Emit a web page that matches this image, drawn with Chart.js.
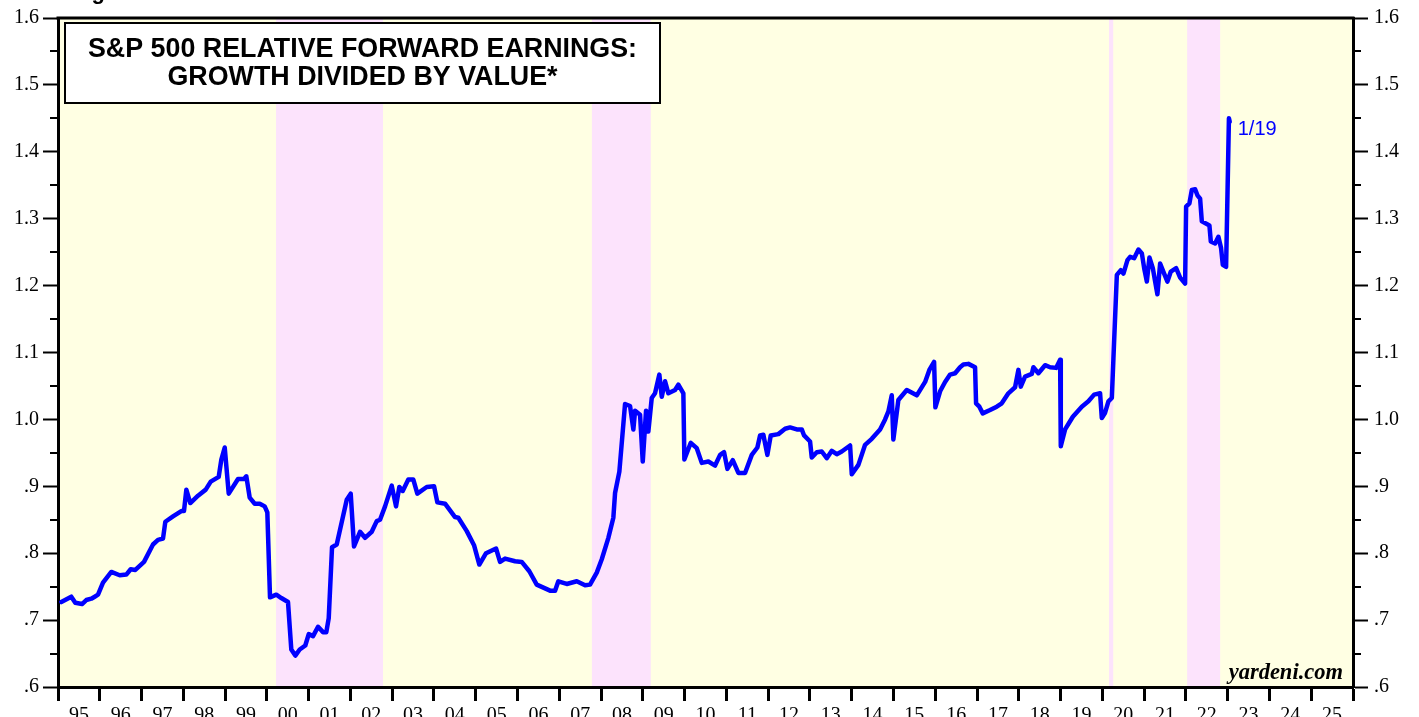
<!DOCTYPE html>
<html><head><meta charset="utf-8">
<script src="https://cdn.jsdelivr.net/npm/chart.js@4.4.1/dist/chart.umd.min.js"></script>
<style>html,body{margin:0;padding:0;background:#fff;overflow:hidden}#wrap{width:1419px;height:717px;position:relative}</style>
</head><body><div id="wrap"><canvas id="c" width="1419" height="717"></canvas></div>
<script>
// ---- data (decimal year, ratio) ----
const dates = [1995.079,1995.318,1995.414,1995.575,1995.677,1995.797,1995.879,1995.958,1996.077,1996.276,1996.477,1996.635,1996.740,1996.851,1997.059,1997.274,1997.394,1997.514,1997.569,1997.753,1997.952,1998.016,1998.072,1998.167,1998.352,1998.536,1998.656,1998.847,1998.910,1998.991,1999.087,1999.309,1999.453,1999.508,1999.589,1999.709,1999.829,1999.948,2000.011,2000.075,2000.226,2000.346,2000.506,2000.585,2000.681,2000.786,2000.920,2001.002,2001.105,2001.225,2001.344,2001.423,2001.481,2001.560,2001.672,2001.912,2002.007,2002.086,2002.230,2002.350,2002.510,2002.630,2002.709,2002.829,2002.989,2003.092,2003.171,2003.252,2003.386,2003.506,2003.602,2003.827,2004.002,2004.081,2004.265,2004.504,2004.583,2004.785,2004.959,2005.086,2005.247,2005.486,2005.582,2005.702,2005.941,2006.101,2006.283,2006.460,2006.779,2006.899,2006.977,2007.178,2007.418,2007.617,2007.736,2007.897,2008.017,2008.175,2008.294,2008.335,2008.438,2008.574,2008.694,2008.773,2008.814,2008.933,2008.998,2009.077,2009.132,2009.213,2009.292,2009.395,2009.453,2009.532,2009.611,2009.771,2009.850,2009.970,2009.994,2010.147,2010.291,2010.411,2010.569,2010.729,2010.849,2010.944,2011.024,2011.153,2011.287,2011.447,2011.608,2011.742,2011.806,2011.885,2011.981,2012.062,2012.244,2012.405,2012.524,2012.685,2012.804,2012.860,2013.003,2013.044,2013.164,2013.283,2013.403,2013.523,2013.642,2013.762,2013.961,2014.002,2014.160,2014.320,2014.480,2014.679,2014.799,2014.878,2014.959,2014.997,2015.117,2015.318,2015.558,2015.757,2015.859,2015.972,2016.003,2016.116,2016.235,2016.355,2016.475,2016.594,2016.673,2016.793,2016.953,2016.977,2017.056,2017.137,2017.312,2017.472,2017.592,2017.750,2017.911,2017.990,2018.047,2018.150,2018.311,2018.349,2018.469,2018.629,2018.749,2018.893,2018.989,2019.005,2019.108,2019.293,2019.508,2019.666,2019.803,2019.946,2019.987,2020.066,2020.145,2020.227,2020.265,2020.347,2020.442,2020.505,2020.601,2020.665,2020.761,2020.864,2020.946,2021.001,2021.065,2021.127,2021.208,2021.264,2021.318,2021.383,2021.479,2021.558,2021.639,2021.766,2021.862,2021.981,2022.005,2022.084,2022.142,2022.221,2022.276,2022.340,2022.381,2022.501,2022.563,2022.596,2022.699,2022.778,2022.842,2022.883,2022.962,2023.030,2023.049];
const values = [0.727,0.735,0.726,0.724,0.730,0.732,0.735,0.738,0.756,0.772,0.767,0.768,0.776,0.775,0.787,0.813,0.820,0.822,0.847,0.855,0.863,0.863,0.895,0.875,0.886,0.895,0.907,0.914,0.940,0.958,0.889,0.911,0.911,0.915,0.883,0.874,0.874,0.870,0.861,0.734,0.738,0.733,0.727,0.656,0.647,0.656,0.662,0.679,0.676,0.690,0.682,0.682,0.703,0.809,0.813,0.880,0.889,0.810,0.832,0.823,0.832,0.848,0.850,0.870,0.901,0.870,0.899,0.893,0.910,0.910,0.889,0.899,0.900,0.876,0.874,0.854,0.853,0.833,0.812,0.783,0.800,0.807,0.787,0.792,0.788,0.787,0.773,0.753,0.744,0.744,0.758,0.754,0.758,0.752,0.753,0.771,0.791,0.823,0.853,0.890,0.922,1.023,1.020,0.985,1.013,1.007,0.937,1.013,0.982,1.032,1.039,1.067,1.034,1.057,1.039,1.044,1.052,1.039,0.940,0.965,0.957,0.935,0.937,0.931,0.947,0.951,0.926,0.939,0.920,0.920,0.947,0.958,0.976,0.977,0.947,0.976,0.978,0.986,0.988,0.985,0.985,0.976,0.967,0.943,0.951,0.952,0.942,0.953,0.948,0.952,0.961,0.918,0.932,0.962,0.971,0.985,1.000,1.012,1.036,0.970,1.029,1.044,1.036,1.056,1.074,1.086,1.018,1.042,1.056,1.067,1.069,1.078,1.082,1.083,1.078,1.024,1.019,1.009,1.014,1.019,1.024,1.039,1.048,1.074,1.049,1.064,1.068,1.078,1.069,1.081,1.078,1.077,1.089,0.960,0.985,1.004,1.019,1.027,1.037,1.039,1.002,1.010,1.027,1.032,1.091,1.216,1.223,1.218,1.238,1.243,1.241,1.254,1.248,1.226,1.206,1.242,1.226,1.206,1.187,1.233,1.218,1.206,1.221,1.226,1.212,1.203,1.318,1.323,1.343,1.344,1.335,1.330,1.296,1.292,1.290,1.266,1.263,1.273,1.256,1.231,1.228,1.450,1.445];
const yearLabels = ['95','96','97','98','99','00','01','02','03','04','05','06','07','08','09','10','11','12','13','14','15','16','17','18','19','20','21','22','23','24','25'];
const yTickValues = [0.6,0.7,0.8,0.9,1.0,1.1,1.2,1.3,1.4,1.5,1.6];
const yTickLabels = ['.6','.7','.8','.9','1.0','1.1','1.2','1.3','1.4','1.5','1.6'];
const bandStarts = [2000.22, 2007.78, 2020.16, 2022.03];
const bandEnds   = [2002.78, 2009.19, 2020.26, 2022.82];
const titleLines = ['S&P 500 RELATIVE FORWARD EARNINGS:', 'GROWTH DIVIDED BY VALUE*'];
const lastLabel = '1/19';
const sourceLabel = 'yardeni.com';
const figureLabel = 'Figure';

const SERIF = "'Liberation Serif','Times New Roman',serif";
const SANS = "'Liberation Sans',Arial,sans-serif";

const bgPlugin = {
  id: 'bg',
  beforeDraw(chart) {
    const {ctx, chartArea: a, scales} = chart;
    ctx.save();
    ctx.fillStyle = '#ffffe3';
    ctx.fillRect(a.left, a.top, a.right - a.left, a.bottom - a.top);
    ctx.fillStyle = '#fce3fc';
    bandStarts.forEach((s, i) => {
      const x1 = scales.x.getPixelForValue(s), x2 = scales.x.getPixelForValue(bandEnds[i]);
      ctx.fillRect(x1, a.top, x2 - x1, a.bottom - a.top);
    });
    ctx.restore();
  }
};

const overlayPlugin = {
  id: 'overlay',
  afterDraw(chart) {
    const {ctx, chartArea: a, scales} = chart;
    ctx.save();
    // top frame
    ctx.strokeStyle = '#000';
    ctx.lineWidth = 3;
    ctx.beginPath(); ctx.moveTo(a.left - 1.5, a.top); ctx.lineTo(a.right + 1.5, a.top); ctx.stroke();
    // minor y ticks
    ctx.lineWidth = 2;
    for (let i = 0; i < yTickValues.length - 1; i++) {
      const v = (yTickValues[i] + yTickValues[i + 1]) / 2;
      const y = Math.round(scales.y.getPixelForValue(v));
      ctx.beginPath(); ctx.moveTo(a.left - 8, y); ctx.lineTo(a.left, y); ctx.stroke();
      ctx.beginPath(); ctx.moveTo(a.right, y); ctx.lineTo(a.right + 8, y); ctx.stroke();
    }
    // title box
    ctx.fillStyle = '#fff';
    ctx.fillRect(65, 23, 595, 80);
    ctx.lineWidth = 2;
    ctx.strokeRect(65, 23, 595, 80);
    ctx.fillStyle = '#000';
    ctx.font = 'bold 24px ' + SANS;
    const w = ctx.measureText(titleLines[0]).width;
    const fs = 24 * 549 / w;
    ctx.font = 'bold ' + fs.toFixed(2) + 'px ' + SANS;
    ctx.textAlign = 'center';
    ctx.textBaseline = 'alphabetic';
    ctx.fillText(titleLines[0], 362.5, 57);
    ctx.fillText(titleLines[1], 362.5, 85);
    // last value label
    const lx = scales.x.getPixelForValue(dates[dates.length - 1]);
    const ly = scales.y.getPixelForValue(values[values.length - 1]);
    ctx.fillStyle = '#0000ff';
    ctx.font = '20px ' + SANS;
    ctx.textAlign = 'left';
    ctx.fillText(lastLabel, lx + 8, ly + 13);
    // source
    ctx.fillStyle = '#000';
    ctx.font = 'italic bold 22.5px ' + SERIF;
    ctx.textAlign = 'right';
    ctx.fillText(sourceLabel, a.right - 10, a.bottom - 8);
    // figure caption (cut at top)
    ctx.font = 'bold 22px ' + SANS;
    ctx.textAlign = 'left';
    ctx.fillText(figureLabel, 72, -1);
    ctx.restore();
  }
};

const yAxis = (pos, width, pad) => ({
  type: 'linear', position: pos, min: 0.6, max: 1.6,
  afterBuildTicks: s => { s.ticks = yTickValues.map(v => ({value: v})); },
  afterFit: s => { s.width = width; },
  grid: {drawOnChartArea: false, drawTicks: true, tickLength: 15, tickWidth: 2, tickColor: '#000'},
  border: {display: true, color: '#000', width: 3},
  ticks: {padding: pad, color: '#000', font: {family: SERIF, size: 20}, callback: (v, i) => yTickLabels[i]}
});

new Chart(document.getElementById('c'), {
  type: 'line',
  data: {datasets: [{
    data: dates.map((d, i) => ({x: d, y: values[i]})),
    borderColor: '#0000ff', borderWidth: 4.5, pointRadius: 0, tension: 0, fill: false,
    borderJoinStyle: 'round', borderCapStyle: 'round',
    xAxisID: 'x', yAxisID: 'y'
  }]},
  options: {
    responsive: false, animation: false, devicePixelRatio: 1,
    layout: {padding: {top: 17, left: 0, right: 0, bottom: 0}},
    plugins: {legend: {display: false}, tooltip: {enabled: false}},
    scales: {
      x: {
        type: 'linear', position: 'bottom', min: 1995, max: 2026,
        afterBuildTicks: s => { s.ticks = yearLabels.map((l, i) => ({value: 1995.5 + i})); },
        afterFit: s => { s.height = 30; },
        grid: {offset: true, drawOnChartArea: false, drawTicks: true, tickLength: 14, tickWidth: 3, tickColor: '#000'},
        border: {display: true, color: '#000', width: 3},
        ticks: {autoSkip: false, maxRotation: 0, minRotation: 0, padding: 3, color: '#000', font: {family: SERIF, size: 20}, callback: (v, i) => yearLabels[i]}
      },
      y: yAxis('left', 58, 4),
      y2: yAxis('right', 66, 6)
    }
  },
  plugins: [bgPlugin, overlayPlugin]
});
</script>
</body></html>
